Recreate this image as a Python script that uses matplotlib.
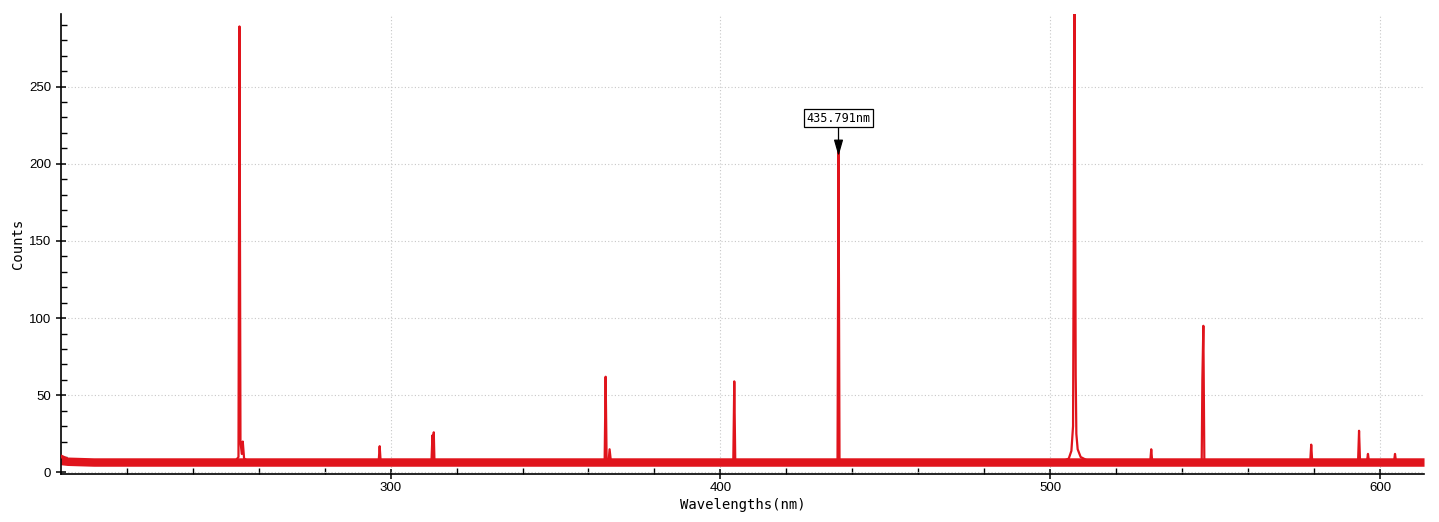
import numpy as np
import matplotlib.pyplot as plt
from matplotlib.ticker import MultipleLocator

# Spectrum: hand-read points (wavelength in nm, counts)
wavelengths = [200.0, 201.0, 203.0, 220.0, 240.0, 252.8, 253.9, 254.2, 254.5, 254.9, 255.2, 255.6, 257.0,
               275.0, 290.0, 296.4, 296.7, 297.0, 305.0, 312.4, 312.7, 312.9, 313.1, 313.3, 313.6, 330.0,
               350.0, 364.9, 365.2, 365.5, 366.1, 366.4, 366.8, 385.0, 403.9, 404.2, 404.5, 420.0, 435.5,
               435.8, 436.1, 460.0, 490.0, 504.0, 505.6, 506.4, 506.9, 507.1, 507.3, 507.5, 507.7, 507.9,
               508.3, 509.2, 511.0, 520.0, 530.3, 530.6, 530.9, 545.9, 546.1, 546.4, 546.7, 560.0, 578.8,
               579.1, 579.4, 593.3, 593.6, 593.9, 596.0, 596.3, 596.6, 604.2, 604.5, 604.8, 613.3]
counts = [11.0, 8.0, 7.0, 6.5, 7.0, 7.0, 10.0, 289.0, 20.0, 12.0, 20.0, 9.0, 7.0,
          6.5, 7.0, 7.0, 17.0, 7.0, 7.0, 7.0, 24.0, 8.0, 26.0, 8.0, 7.0, 7.0,
          7.0, 7.0, 62.0, 8.0, 7.0, 15.0, 7.0, 7.0, 7.0, 59.0, 7.0, 7.0, 8.0,
          208.0, 8.0, 7.0, 7.0, 7.5, 9.0, 14.0, 30.0, 150.0, 330.0, 208.0, 63.0, 25.0,
          15.0, 10.0, 8.0, 7.0, 7.0, 15.0, 7.0, 7.0, 60.0, 95.0, 7.0, 7.0, 7.0,
          18.0, 7.0, 7.0, 27.0, 7.0, 7.0, 12.0, 7.0, 7.0, 12.0, 7.0, 7.0]

# noise band around the baseline
band_wl = [200.0, 202.0, 210.0, 300.0, 400.0, 500.0, 613.3]
band_lo = [5.0, 4.5, 4.0, 4.0, 4.0, 4.0, 4.0]
band_hi = [12.0, 10.0, 9.5, 9.5, 9.5, 9.5, 9.5]

peak_label = "435.791nm"
peak_x, peak_y = 435.8, 205.0
label_y = 229.5

red = '#e0141c'

fig = plt.figure(figsize=(14.39, 5.22), dpi=100)
ax = fig.add_axes([0.0424, 0.092, 0.9472, 0.881])

ax.fill_between(band_wl, band_lo, band_hi, color=red, lw=0, zorder=2)
ax.plot(wavelengths, counts, color=red, lw=1.6, zorder=3)

ax.set_xlim(200.1, 613.3)
ax.set_ylim(-1, 297)

ax.xaxis.set_major_locator(MultipleLocator(100))
ax.xaxis.set_minor_locator(MultipleLocator(20))
ax.yaxis.set_major_locator(MultipleLocator(50))
ax.yaxis.set_minor_locator(MultipleLocator(10))

ax.grid(True, which='major', ls=(0, (1, 2)), color='#c8c8c8', lw=0.8, zorder=0)

for s in ['top', 'right']:
    ax.spines[s].set_visible(False)
for s in ['left', 'bottom']:
    ax.spines[s].set_linewidth(1.2)

ax.tick_params(which='major', direction='inout', length=7, width=1.1, labelsize=9.5)
ax.tick_params(axis='x', which='major', pad=2)
ax.tick_params(which='minor', direction='in', length=4, width=1)
for lab in ax.get_xticklabels() + ax.get_yticklabels():
    lab.set_family('Liberation Sans')

ax.set_xlabel("Wavelengths(nm)", family='DejaVu Sans Mono', fontsize=10, labelpad=3)
ax.set_ylabel("Counts", family='DejaVu Sans Mono', fontsize=10, labelpad=3)

ax.annotate(peak_label, xy=(peak_x, peak_y), xytext=(peak_x, label_y),
            ha='center', va='center', family='DejaVu Sans Mono', fontsize=8.5,
            bbox=dict(boxstyle='square,pad=0.2', fc='white', ec='black', lw=0.9),
            arrowprops=dict(arrowstyle='-|>,head_length=0.7,head_width=0.2', color='black',
                            lw=0.9, mutation_scale=14, shrinkA=0, shrinkB=0),
            zorder=5)

fig.savefig('out.png', dpi=100)
